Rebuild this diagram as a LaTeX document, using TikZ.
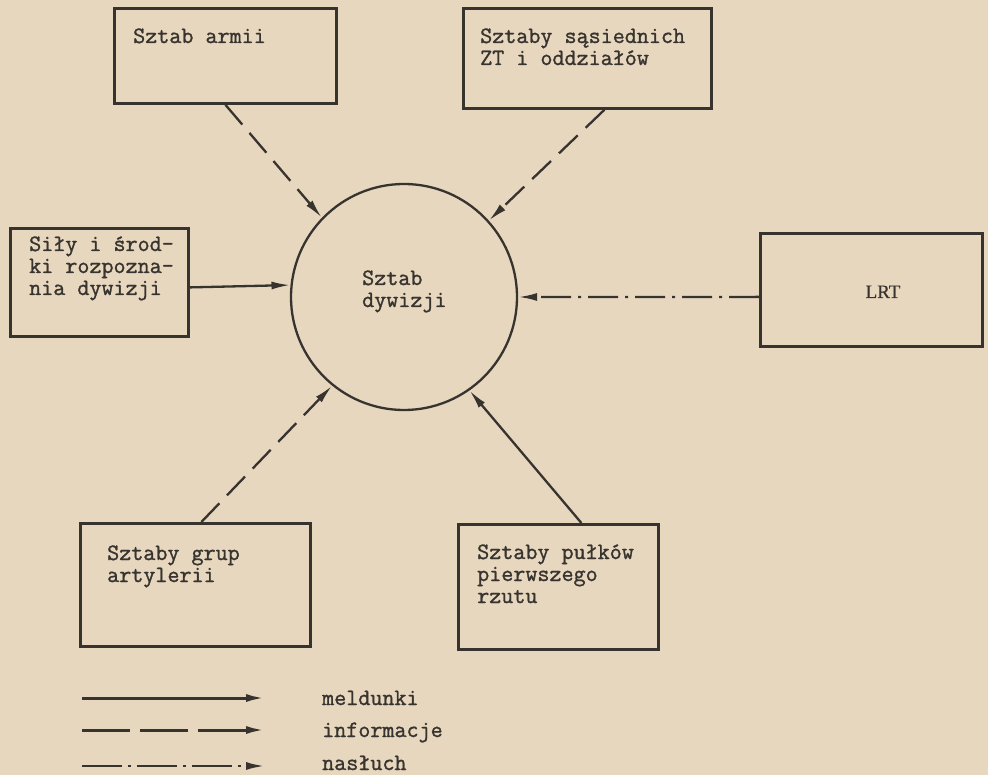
\documentclass[tikz,border=0pt]{standalone}
\usepackage{fontspec}
\setmonofont{Latin Modern Mono}[FakeBold=1.2]
\newfontfamily\lrtfont{Liberation Serif}[FakeBold=0.5]
\usetikzlibrary{arrows.meta}
\definecolor{paper}{RGB}{231,215,190}
\definecolor{ink}{RGB}{55,51,47}
\begin{document}
\begin{tikzpicture}[x=1pt,y=-1pt,
  box/.style={draw=ink, line width=2.8pt, rectangle, inner sep=0pt, anchor=north west},
  lbl/.style={anchor=base west, inner sep=0pt, text height=13pt, text depth=3pt, text=ink, font=\ttfamily\fontsize{23.4}{24}\selectfont},
  conn/.style={draw=ink, line width=2.3pt, -{Latex[length=19pt,width=8pt]}},
  meld/.style={conn},
  info/.style={conn, dash pattern=on 26pt off 11pt},
  nasl/.style={conn, dash pattern=on 30pt off 7pt on 3pt off 7pt},
]
\useasboundingbox (0,0) rectangle (988,775);
\fill[paper] (0,0) rectangle (988,775);

% boxes
\node[box, minimum width=222pt, minimum height=95pt]  (armii) at (113,7) {};
\node[box, minimum width=248pt, minimum height=100pt] (sas)   at (462,7) {};
\node[box, minimum width=178pt, minimum height=108pt] (sily)  at (9,227) {};
\node[box, minimum width=222pt, minimum height=113pt] (lrt)   at (759,232) {};
\node[box, minimum width=230pt, minimum height=123pt] (art)   at (79,522) {};
\node[box, minimum width=200pt, minimum height=125pt] (pul)   at (457,523) {};

% central circle
\node[draw=ink, line width=2.3pt, circle, minimum size=226pt, inner sep=0pt] (dyw) at (404,297) {};

% texts
\node[lbl] (t1) at (133,43) {Sztab armii};
\node[lbl] (t2a) at (480,43) {Sztaby sąsiednich};
\node[lbl] (t2b) at (480,65) {ZT i oddziałów};
\node[lbl] (t3a) at (29,251) {Siły i środ-};
\node[lbl] (t3b) at (29,273) {ki rozpozna-};
\node[lbl] (t3c) at (29,295) {nia dywizji};
\node[lbl] (t4a) at (362,285) {Sztab};
\node[lbl] (t4b) at (362,307) {dywizji};
\node[anchor=base, inner sep=0pt, text=ink, font=\lrtfont\fontsize{19}{20}\selectfont] (t5) at (883,298) {LRT};
\node[lbl] (t6a) at (107,560) {Sztaby grup};
\node[lbl] (t6b) at (107,582) {artylerii};
\node[lbl] (t7a) at (477,559) {Sztaby pułków};
\node[lbl] (t7b) at (477,581) {pierwszego};
\node[lbl] (t7c) at (477,603) {rzutu};

% connectors
\draw[info] (armii.south) -- (dyw.136);
\draw[info] ([xshift=17pt]sas.south) -- (dyw.42);
\draw[meld] ([yshift=-5pt]sily.east) -- (dyw.174);
\draw[nasl] ([yshift=-7pt]lrt.west) -- (dyw.0);
\draw[info] ([xshift=6pt]art.north) -- (dyw.231);
\draw[meld] ([xshift=23pt]pul.north) -- (dyw.305);

% legend
\node[lbl] (lm) at (322,705) {meldunki};
\node[lbl] (li) at (322,737) {informacje};
\node[lbl] (ln) at (322,770) {nasłuch};
\coordinate (l1a) at (82,698);  \coordinate (l1b) at (265,698);
\coordinate (l2a) at (82,730);  \coordinate (l2b) at (265,730);
\coordinate (l3a) at (82,766);  \coordinate (l3b) at (265,766);
\draw[meld, line width=3pt] (l1a) -- (l1b);
\draw[info, line width=3pt, dash pattern=on 48pt off 10pt] (l2a) -- (l2b);
\draw[nasl, line width=2.6pt, dash pattern=on 40pt off 6pt on 3pt off 6pt] (l3a) -- (l3b);
\end{tikzpicture}
\end{document}
